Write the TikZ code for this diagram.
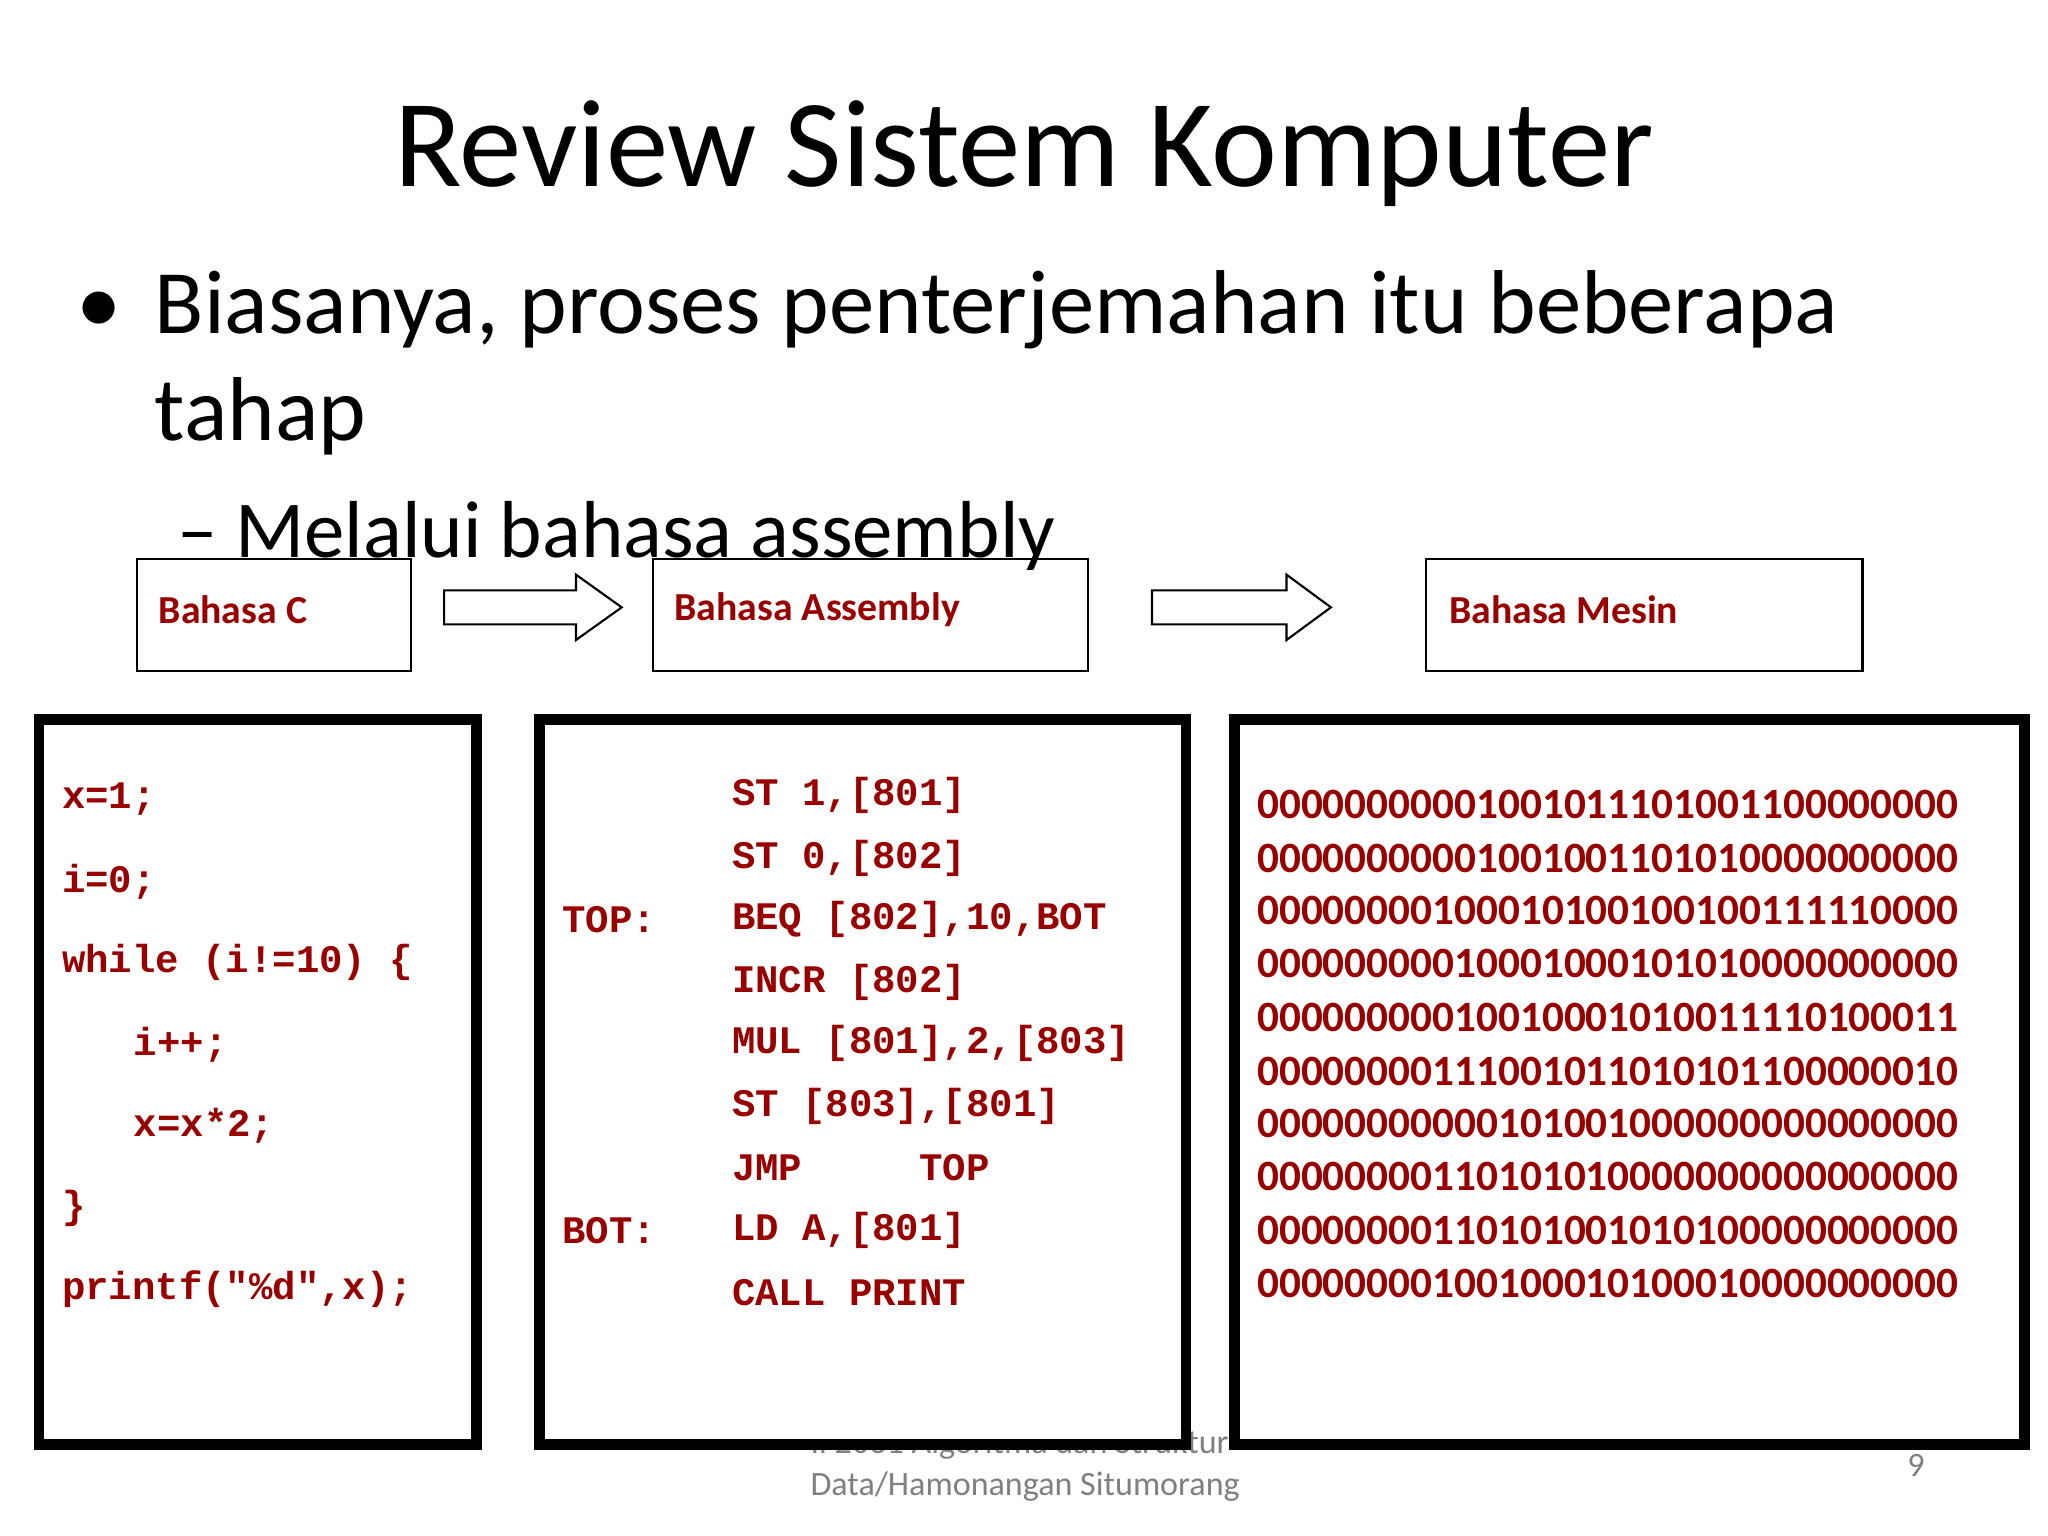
\documentclass[tikz,border=0pt]{standalone}
\usepackage{fontspec}
\setmainfont{Carlito}
\setmonofont{Liberation Mono}
\usepackage{xcolor}
\definecolor{codered}{HTML}{990000}
\tikzset{
  label box/.style={draw, line width=0.6pt, inner sep=0pt},
  code box/.style={draw, line width=3pt, fill=white, inner sep=0pt},
  code/.style={anchor=west, inner sep=0pt, text=codered, font=\ttfamily\bfseries\fontsize{11.1}{13}\selectfont},
  bits/.style={anchor=west, inner sep=0pt, text=codered, font=\bfseries\fontsize{12.3}{14}\selectfont},
  box title/.style={anchor=west, inner sep=0pt, text=codered, font=\bfseries\fontsize{11.3}{14}\selectfont},
  block arrow/.style={draw, line width=0.6pt, fill=white},
  body text/.style={anchor=base west, inner sep=0pt, font=\fontsize{25.8}{31}\selectfont},
  foot text/.style={inner sep=0pt, text=gray, font=\fontsize{9.7}{12}\selectfont}
}
\begin{document}
\begin{tikzpicture}[x=0.01306cm, y=-0.01306cm]
            \useasboundingbox (0,0) rectangle (1568,1176);

            % Judul dan poin
            \node[anchor=center, inner sep=0pt, font=\fontsize{35.5}{42}\selectfont] (judul) at (784,118) {Review Sistem Komputer};
            \node[body text] (titik) at (58,255) {\textbullet};
            \node[body text] (poin) at (118,255) {Biasanya, proses penterjemahan itu beberapa};
            \node[body text] (poinb) at (118,337) {tahap};
            \node[body text, font=\fontsize{23}{28}\selectfont] (subpoin) at (135,427) {-- Melalui bahasa assembly};

            % Footer
            \node[foot text, anchor=west] (footA) at (620,1106) {IF2031 Algoritma dan Struktur};
            \node[foot text, anchor=west] (footB) at (620,1138) {Data/Hamonangan Situmorang};
            \node[foot text] (hal) at (1467,1122) {9};

            % Kotak judul
            \draw[label box] (105,428) rectangle (315,514);
            \node[box title] (bahasaC) at (121,467) {Bahasa C};
            \draw[label box] (500,428) rectangle (833,514);
            \node[box title] (bahasaAsm) at (516,467) {Bahasa Assembly};
            \draw[label box] (1092,428) rectangle (1426,514);
            \node[box title] (bahasaMesin) at (1109,467) {Bahasa Mesin};

            % Panah blok
            \draw[block arrow] (340,452) -- (441,452) -- (441,440) -- (476,465) -- (441,490) -- (441,478) -- (340,478) -- cycle;
            \draw[block arrow] (882,452) -- (985,452) -- (985,440) -- (1019,465) -- (985,490) -- (985,478) -- (882,478) -- cycle;

            % Kotak kode
            \draw[code box] (30,551) rectangle (365,1106);
            \draw[code box] (413,551) rectangle (908,1106);
            \draw[code box] (945,551) rectangle (1550,1106);

            % Bahasa C
            \node[code] (c1) at (47,612) {x=1;};
            \node[code] (c2) at (47,675) {i=0;};
            \node[code] (c3) at (47,737) {while (i!=10) \{};
            \node[code] (c4) at (102,800) {i++;};
            \node[code] (c5) at (102,862) {x=x*2;};
            \node[code] (c6) at (47,925) {\}};
            \node[code] (c7) at (47,987) {printf("\%d",x);};

            % Assembly
            \node[code] (a1) at (560,609) {ST 1,[801]};
            \node[code] (a2) at (560,657) {ST 0,[802]};
            \node[code] (lblTop) at (430,704) {TOP:};
            \node[code] (a3) at (560,704) {BEQ [802],10,BOT};
            \node[code] (a4) at (560,752) {INCR [802]};
            \node[code] (a5) at (560,799) {MUL [801],2,[803]};
            \node[code] (a6) at (560,847) {ST [803],[801]};
            \node[code] (a7) at (560,894) {JMP\ \ \ \ \ TOP};
            \node[code] (lblBot) at (430,942) {BOT:};
            \node[code] (a8) at (560,942) {LD A,[801]};
            \node[code] (a9) at (560,990) {CALL PRINT};

            % Bahasa mesin
            \foreach \bar/\y in {
                00000000001001011101001100000000/616,
                00000000001001001101010000000000/657,
                00000000100010100100100111110000/697,
                00000000010001000101010000000000/738,
                00000000010010001010011110100011/779,
                00000000111001011010101100000010/820,
                00000000000101001000000000000000/860,
                00000000110101010000000000000000/901,
                00000000110101001010100000000000/942,
                00000000100100010100010000000000/983}
                \node[bits] (bin\y) at (962,\y) {\bar};
        \end{tikzpicture}
\end{document}
